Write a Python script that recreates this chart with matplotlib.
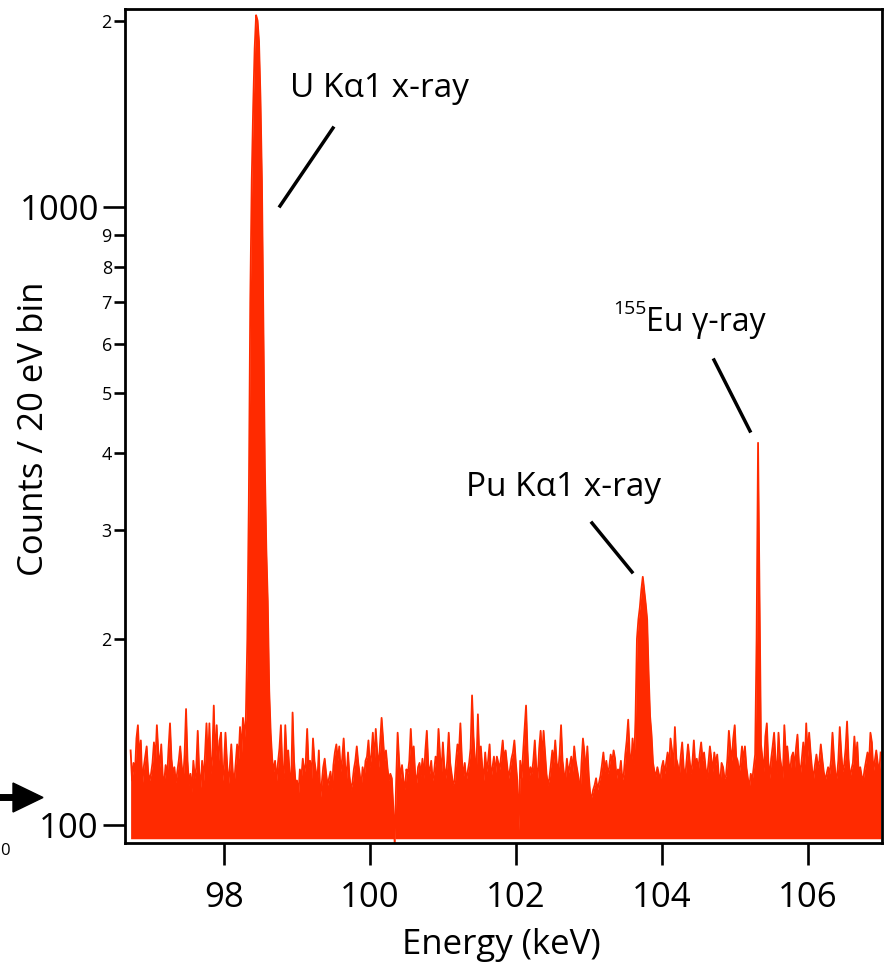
"""
Energy spectrum (20 eV bins) with U Ka1, Pu Ka1 and 155Eu gamma lines
"""
import numpy as np
import matplotlib
matplotlib.use('Agg')
import matplotlib.pyplot as plt
from matplotlib.lines import Line2D
from matplotlib.patches import Polygon

plt.rcParams['font.family'] = ['Open Sans', 'DejaVu Sans']

# ===== data =====
E_START = 96.72    # keV, centre of first bin
BIN_WIDTH = 0.02   # keV (20 eV)

counts = [
    132, 118, 126, 121, 138, 145, 128, 137, 116, 124,
    129, 134, 122, 118, 121, 126, 136, 127, 145, 131,
    124, 135, 120, 117, 125, 119, 133, 146, 128, 121,
    124, 117, 122, 127, 134, 125, 118, 130, 154, 127,
    116, 121, 113, 127, 119, 124, 142, 122, 115, 127,
    118, 130, 146, 124, 146, 121, 129, 156, 126, 145,
    124, 137, 141, 118, 125, 141, 127, 116, 124, 135,
    122, 117, 126, 135, 128, 144, 131, 149, 138, 150,
    200, 330, 700, 1100, 1450, 1800, 2040, 2000, 1850, 1500,
    1100, 650, 380, 280, 230, 165, 141, 128, 122, 127,
    118, 126, 133, 145, 124, 119, 145, 128, 132, 121,
    114, 152, 127, 117, 118, 112, 123, 119, 128, 121,
    126, 143, 124, 127, 119, 138, 127, 122, 118, 132,
    110, 117, 124, 128, 121, 116, 119, 122, 114, 125,
    131, 135, 127, 134, 122, 128, 138, 125, 119, 131,
    120, 114, 117, 123, 127, 134, 126, 121, 115, 124,
    119, 127, 129, 137, 124, 130, 141, 126, 143, 131,
    124, 136, 149, 138, 127, 132, 124, 118, 121, 119,
    107, 93, 118, 141, 127, 119, 125, 118, 114, 123,
    121, 127, 143, 128, 134, 121, 117, 124, 126, 120,
    128, 119, 132, 142, 125, 121, 127, 118, 122, 129,
    125, 143, 130, 121, 136, 124, 119, 127, 141, 126,
    121, 116, 118, 127, 135, 131, 146, 128, 119, 126,
    118, 122, 126, 133, 162, 139, 127, 124, 151, 128,
    134, 124, 118, 131, 122, 127, 135, 119, 124, 129,
    121, 129, 126, 123, 130, 137, 127, 132, 125, 119,
    123, 128, 131, 137, 126, 118, 98, 127, 119, 131,
    143, 156, 132, 118, 124, 121, 127, 137, 124, 119,
    133, 142, 128, 142, 131, 121, 116, 119, 125, 132,
    126, 137, 126, 122, 130, 145, 127, 121, 119, 128,
    121, 125, 129, 122, 134, 127, 123, 119, 112, 126,
    138, 131, 121, 134, 120, 112, 111, 114, 116, 119,
    114, 117, 120, 125, 131, 122, 127, 121, 124, 130,
    126, 132, 128, 119, 123, 121, 127, 118, 121, 130,
    137, 148, 131, 124, 138, 125, 148, 200, 215, 225,
    240, 252, 240, 228, 215, 176, 150, 140, 126, 122,
    120, 124, 121, 118, 124, 127, 121, 126, 131, 124,
    138, 132, 123, 144, 128, 125, 120, 129, 136, 124,
    119, 127, 135, 128, 121, 126, 137, 124, 128, 122,
    130, 136, 127, 131, 124, 119, 126, 134, 128, 122,
    131, 125, 130, 121, 117, 126, 124, 119, 120, 128,
    142, 133, 127, 138, 145, 129, 127, 121, 126, 134,
    127, 134, 124, 119, 115, 121, 118, 124, 130, 200,
    415, 235, 135, 128, 122, 139, 146, 127, 119, 128,
    134, 141, 127, 121, 141, 129, 124, 119, 145, 131,
    134, 126, 122, 129, 131, 124, 133, 140, 126, 121,
    128, 136, 125, 146, 129, 141, 131, 123, 119, 125,
    130, 124, 127, 135, 128, 122, 118, 121, 124, 121,
    127, 141, 129, 121, 119, 127, 144, 131, 122, 125,
    133, 147, 128, 119, 123, 126, 139, 127, 136, 121,
    124, 120, 118, 123, 127, 131, 125, 141, 136, 122,
    127, 132, 126, 121, 131,
]
energy = E_START + BIN_WIDTH * np.arange(len(counts))

x_ticks = [98, 100, 102, 104, 106]
y_major = [100, 1000]
y_major_labels = ['100', '1000']
y_minor = [200, 300, 400, 500, 600, 700, 800, 900, 2000]
y_minor_labels = ['2', '3', '4', '5', '6', '7', '8', '9', '2']

u_label = 'U K\u03b11 x-ray'
pu_label = 'Pu K\u03b11 x-ray'
eu_mass = '155'
eu_label = 'Eu \u03b3-ray'

RED = '#ff2a00'
W, H = 886, 964


def fx(x):
    return x / W


def fy(y):
    return 1 - y / H


fig = plt.figure(figsize=(W / 100, H / 100), dpi=100)
ax = fig.add_axes([0.1414, 0.1252, 0.8546, 0.8655])

ax.fill_between(energy, counts, 95, color=RED, linewidth=0)
ax.plot(energy, counts, color=RED, linewidth=1.3)

ax.set_yscale('log')
ax.set_xlim(96.647, 107.025)
ax.set_ylim(93.4, 2088)

ax.set_xticks(x_ticks)
ax.set_xticklabels([str(t) for t in x_ticks])
ax.xaxis.set_minor_locator(matplotlib.ticker.NullLocator())
ax.set_yticks(y_major)
ax.set_yticklabels(y_major_labels)
ax.set_yticks(y_minor, minor=True)
ax.set_yticklabels(y_minor_labels, minor=True)

for s in ax.spines.values():
    s.set_linewidth(2.0)
ax.tick_params(axis='x', which='major', direction='out', length=15.8, width=1.9,
               labelsize=25, pad=11)
ax.tick_params(axis='y', which='major', direction='out', length=15.5, width=1.9,
               labelsize=25, pad=3.5)
ax.tick_params(axis='y', which='minor', direction='out', length=7.9, width=1.9,
               labelsize=13, pad=1.8)

# axis labels
fig.text(fx(34), fy(429), 'Counts / 20 eV bin', rotation=90,
         ha='center', va='center', fontsize=25)
fig.text(fx(501), fy(954), 'Energy (keV)', ha='center', va='baseline', fontsize=25)

# peak annotations
fig.text(fx(290), fy(97), u_label, ha='left', va='baseline', fontsize=24)
fig.text(fx(466), fy(496), pu_label, ha='left', va='baseline', fontsize=24)
fig.text(fx(613), fy(314), eu_mass, ha='left', va='baseline', fontsize=14)
fig.text(fx(646), fy(331), eu_label, ha='left', va='baseline', fontsize=23)

for (x1, y1), (x2, y2) in [((280, 206), (333, 128)),
                           ((592, 523), (632, 572)),
                           ((714, 360), (750, 431))]:
    fig.add_artist(Line2D([fx(x1), fx(x2)], [fy(y1), fy(y2)],
                          transform=fig.transFigure, color='black', linewidth=2.5))

# pieces of the neighbouring panel at the left edge
fig.add_artist(Line2D([fx(0), fx(15)], [fy(797), fy(797)],
                      transform=fig.transFigure, color='black', linewidth=5))
fig.add_artist(Polygon([[fx(13), fy(783)], [fx(43), fy(797.5)], [fx(13), fy(812)]],
                       closed=True, transform=fig.transFigure, color='black'))
fig.text(fx(0.5), fy(855), '0', ha='left', va='baseline', fontsize=12)

fig.savefig('out.png', dpi=100)
